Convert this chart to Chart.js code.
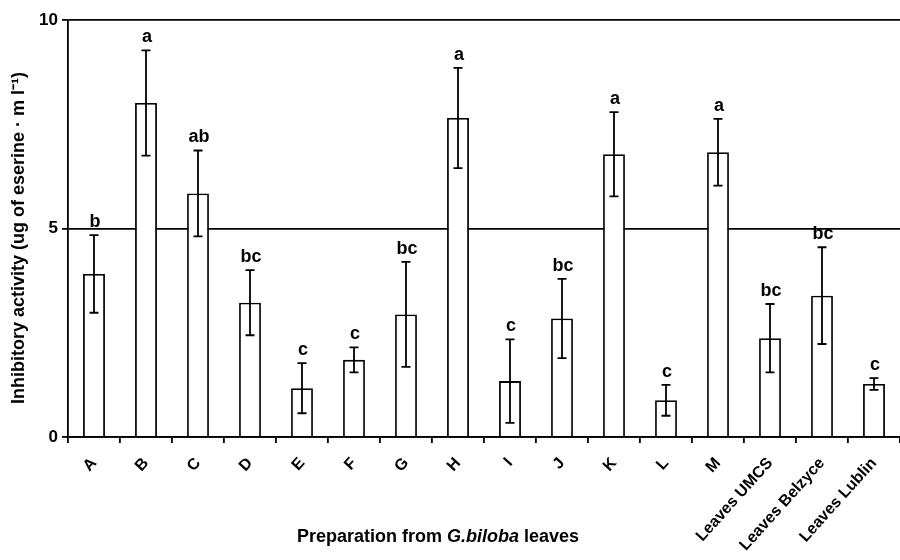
<!DOCTYPE html>
<html>
<head>
<meta charset="utf-8">
<script src="https://cdn.jsdelivr.net/npm/chart.js"></script>
<style>
  html, body { margin: 0; padding: 0; background: #fff; }
  #wrap { width: 900px; height: 560px; }
</style>
</head>
<body>
<div id="wrap"><canvas id="chart" width="900" height="560"></canvas></div>
<script>
const labels = ["A", "B", "C", "D", "E", "F", "G", "H", "I", "J", "K", "L", "M",
  "Leaves UMCS", "Leaves Belzyce", "Leaves Lublin"];
const means = [3.91, 8.01, 5.84, 3.22, 1.17, 1.85, 2.94, 7.65, 1.34, 2.84, 6.78, 0.88, 6.83, 2.37, 3.39, 1.27];
const errs = [0.93, 1.26, 1.03, 0.78, 0.60, 0.30, 1.26, 1.20, 1.00, 0.95, 1.01, 0.37, 0.80, 0.82, 1.16, 0.14];
const groups = ["b", "a", "ab", "bc", "c", "c", "bc", "a", "c", "bc", "a", "c", "a", "bc", "bc", "c"];
const yTicks = [0, 5, 10];

const FONT = "'Liberation Sans', Arial, sans-serif";

// error bars, group letters and axis titles
const extras = {
  id: 'extras',
  afterDatasetsDraw(chart) {
    const ctx = chart.ctx;
    const y = chart.scales.y;
    const bars = chart.getDatasetMeta(0).data;
    ctx.save();
    ctx.strokeStyle = '#000';
    ctx.lineWidth = 1.8;
    ctx.fillStyle = '#000';
    ctx.font = 'bold 18px ' + FONT;
    ctx.textAlign = 'center';
    ctx.textBaseline = 'bottom';
    bars.forEach((bar, i) => {
      const x = bar.x;
      const top = y.getPixelForValue(means[i] + errs[i]);
      const bot = y.getPixelForValue(means[i] - errs[i]);
      ctx.beginPath();
      ctx.moveTo(x, top); ctx.lineTo(x, bot);
      ctx.moveTo(x - 4.5, top); ctx.lineTo(x + 4.5, top);
      ctx.moveTo(x - 4.5, bot); ctx.lineTo(x + 4.5, bot);
      ctx.stroke();
      ctx.fillText(groups[i], x + 1, top - 4);
    });

    // y title
    ctx.save();
    ctx.translate(19, 238);
    ctx.rotate(-Math.PI / 2);
    ctx.textBaseline = 'middle';
    ctx.font = 'bold 18px ' + FONT;
    ctx.fillText('Inhibitory activity (ug of eserine \u00b7 m l\u207b\u00b9)', 0, 0);
    ctx.restore();

    // x title with italic species name
    const parts = [
      ['bold 18px ' + FONT, 'Preparation from '],
      ['italic bold 18px ' + FONT, 'G.biloba'],
      ['bold 18px ' + FONT, ' leaves']
    ];
    let total = 0;
    parts.forEach(p => { ctx.font = p[0]; total += ctx.measureText(p[1]).width; });
    let cx = 438 - total / 2;
    ctx.textAlign = 'left';
    ctx.textBaseline = 'middle';
    parts.forEach(p => {
      ctx.font = p[0];
      ctx.fillText(p[1], cx, 537);
      cx += ctx.measureText(p[1]).width;
    });
    ctx.restore();
  }
};

new Chart(document.getElementById('chart'), {
  type: 'bar',
  data: {
    labels: labels,
    datasets: [{
      data: means,
      backgroundColor: '#fff',
      borderColor: '#000',
      borderWidth: 1.8,
      categoryPercentage: 1,
      barPercentage: 0.42
    }]
  },
  options: {
    responsive: false,
    animation: false,
    layout: { padding: { top: 20, right: 0, left: 0, bottom: 0 } },
    plugins: { legend: { display: false }, tooltip: { enabled: false } },
    scales: {
      x: {
        afterFit: s => { s.height = 123; },
        grid: { drawOnChartArea: false, color: '#000', lineWidth: 1.8, tickLength: 6, offset: true },
        border: { color: '#000', width: 1.8 },
        ticks: {
          color: '#000',
          font: { family: FONT, size: 16, weight: 'bold' },
          maxRotation: 48, minRotation: 48,
          autoSkip: false,
          padding: 11
        }
      },
      y: {
        min: 0, max: 10,
        afterFit: s => { s.width = 68; },
        afterBuildTicks: s => { s.ticks = yTicks.map(v => ({ value: v })); },
        grid: { color: '#000', lineWidth: 1.8, tickLength: 6 },
        border: { color: '#000', width: 1.8 },
        ticks: {
          color: '#000',
          font: { family: FONT, size: 17, weight: 'bold' },
          padding: 4
        }
      }
    }
  },
  plugins: [extras]
});
</script>
</body>
</html>
